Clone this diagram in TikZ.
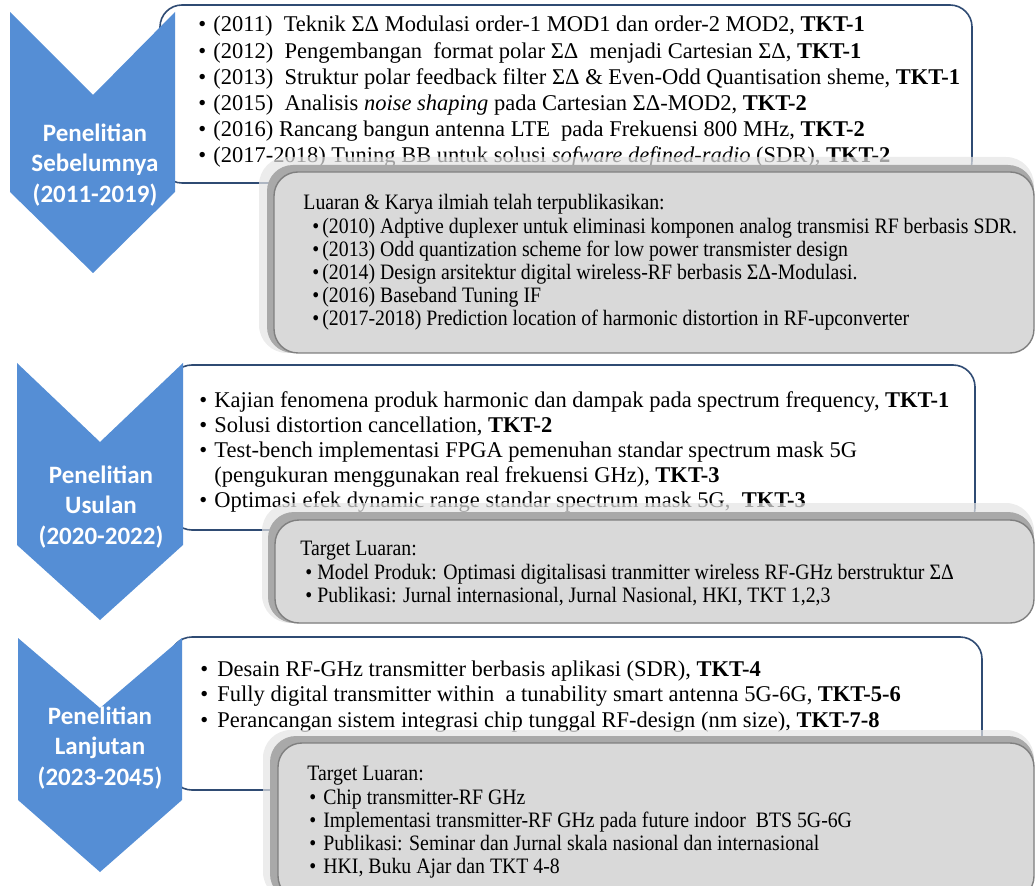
\documentclass[tikz,border=0pt]{standalone}
\usepackage{fontspec}
\setmainfont{Liberation Serif}
\newfontfamily\chevfont{Carlito}
\newfontfamily\narrowfont[FakeStretch=0.9]{Liberation Serif}
\usetikzlibrary{positioning}
\definecolor{cchev}{HTML}{558ED5}
\definecolor{cedge}{HTML}{2F4B73}
\definecolor{cgray}{HTML}{D9D9D9}
\definecolor{cband}{HTML}{A9A9A9}
\definecolor{chalo}{HTML}{E4E4E4}
\definecolor{cgline}{HTML}{7F7F7F}
\newcommand{\blt}[1][7.5pt]{\makebox[#1][l]{\textbullet}}

\begin{document}
\begin{tikzpicture}[
  x=0.5pt, y=-0.5pt,
  chev/.style={fill=cchev},
  chevtext/.style={text=white, font=\chevfont\bfseries\fontsize{12.5}{15.25}\selectfont, align=center, inner sep=0pt},
  wbox/.style={draw=cedge, fill=white, line width=0.8pt, rounded corners=11pt},
  ghalo/.style={fill=chalo, opacity=0.7, rounded corners=14pt},
  gband/.style={fill=cband, rounded corners=13pt},
  gbox/.style={fill=cgray, draw=cgline, line width=0.7pt, rounded corners=12pt},
  itm/.style={anchor=base west, inner sep=0pt, font=\fontsize{11.25}{13}\selectfont},
  gitm/.style={anchor=base west, inner sep=0pt, font=\narrowfont\fontsize{11}{12}\selectfont},
]
\useasboundingbox (0,0) rectangle (1036,886);
\clip (0,0) rectangle (1036,886);

% =================== Penelitian Sebelumnya ===================
\draw[wbox] (160,5) rectangle (972,183);
\foreach \txt [count=\i] in {%
  {\blt(2011)~~Teknik ΣΔ Modulasi order-1 MOD1 dan order-2 MOD2, \textbf{TKT-1}},%
  {\blt(2012)~~Pengembangan~~format polar ΣΔ~~menjadi Cartesian ΣΔ, \textbf{TKT-1}},%
  {\blt(2013)~~Struktur polar feedback filter ΣΔ \& Even-Odd Quantisation sheme, \textbf{TKT-1}},%
  {\blt(2015)~~Analisis \textit{noise shaping} pada Cartesian ΣΔ-MOD2, \textbf{TKT-2}},%
  {\blt(2016) Rancang bangun antenna LTE~~pada Frekuensi 800 MHz, \textbf{TKT-2}},%
  {\blt(2017-2018) Tuning BB untuk solusi \textit{sofware defined-radio} (SDR), \textbf{TKT-2}}}
  \node[itm] (a\i) at (198,{32+26.2*(\i-1)}) {\txt};

\fill[ghalo] (259,157) rectangle (1034,353);
\fill[gband] (267,165) rectangle (1034,353);
\draw[gbox] (274,172) rectangle (1034,353);
\node[gitm] (ah) at (303,210) {Luaran \& Karya ilmiah telah terpublikasikan:};
\foreach \txt [count=\i] in {%
  {\blt[5pt](2010) Adptive duplexer untuk eliminasi komponen analog transmisi RF berbasis SDR.},%
  {\blt[5pt](2013) Odd quantization scheme for low power transmister design},%
  {\blt[5pt](2014) Design arsitektur digital wireless-RF berbasis ΣΔ-Modulasi.},%
  {\blt[5pt](2016) Baseband Tuning IF},%
  {\blt[5pt](2017-2018) Prediction location of harmonic distortion in RF-upconverter}}
  \node[gitm] (ag\i) at (312,{234+23*(\i-1)}) {\txt};

\fill[chev] (10,12) -- (93,95) -- (175,12) -- (175,192) -- (93,273) -- (10,192) -- cycle;
\node[chevtext] (c1) at (95,165) {Penelitian\\Sebelumnya\\(2011-2019)};

% =================== Penelitian Usulan ===================
\draw[wbox] (170,365) rectangle (975,530);
\foreach \txt [count=\i] in {%
  {\blt Kajian fenomena produk harmonic dan dampak pada spectrum frequency, \textbf{TKT-1}},%
  {\blt Solusi distortion cancellation, \textbf{TKT-2}},%
  {\blt Test-bench implementasi FPGA pemenuhan standar spectrum mask 5G},%
  {\makebox[7.5pt]{}(pengukuran menggunakan real frekuensi GHz), \textbf{TKT-3}},%
  {\blt Optimasi efek dynamic range standar spectrum mask 5G,~~\textbf{TKT-3}}}
  \node[itm] (b\i) at (199,{408+24.8*(\i-1)}) {\txt};

\fill[ghalo] (262,503) rectangle (1034,623);
\fill[gband] (268,512) rectangle (1034,623);
\draw[gbox] (275,520) rectangle (1034,623);
\node[gitm] (bh) at (300,555) {Target Luaran:};
\foreach \txt [count=\i] in {%
  {\blt[6pt]Model Produk: Optimasi digitalisasi tranmitter wireless RF-GHz berstruktur ΣΔ},%
  {\blt[6pt]Publikasi: Jurnal internasional, Jurnal Nasional, HKI, TKT 1,2,3}}
  \node[gitm] (bg\i) at (305,{579+23.5*(\i-1)}) {\txt};

\fill[chev] (17,363) -- (100,442) -- (183,363) -- (183,545) -- (100,620) -- (17,545) -- cycle;
\node[chevtext] (c2) at (101,507) {Penelitian\\Usulan\\(2020-2022)};

% =================== Penelitian Lanjutan ===================
\draw[wbox] (170,637) rectangle (982,790);
\foreach \txt [count=\i] in {%
  {\blt[8.5pt]Desain RF-GHz transmitter berbasis aplikasi (SDR), \textbf{TKT-4}},%
  {\blt[8.5pt]Fully digital transmitter within~~a tunability smart antenna 5G-6G, \textbf{TKT-5-6}},%
  {\blt[8.5pt]Perancangan sistem integrasi chip tunggal RF-design (nm size), \textbf{TKT-7-8}}}
  \node[itm] (d\i) at (200,{676+25.5*(\i-1)}) {\txt};

\fill[ghalo] (263,730) rectangle (1034,900);
\fill[gband] (270,736) rectangle (1034,900);
\draw[gbox] (278,743) rectangle (1034,900);
\node[gitm] (dh) at (307,780) {Target Luaran:};
\foreach \txt [count=\i] in {%
  {\blt[7pt]Chip transmitter-RF GHz},%
  {\blt[7pt]Implementasi transmitter-RF GHz pada future indoor~~BTS 5G-6G},%
  {\blt[7pt]Publikasi: Seminar dan Jurnal skala nasional dan internasional},%
  {\blt[7pt]HKI, Buku Ajar dan TKT 4-8}}
  \node[gitm] (dg\i) at (309,{804+23*(\i-1)}) {\txt};

\fill[chev] (18,638) -- (100,708) -- (182,638) -- (182,800) -- (100,872) -- (18,800) -- cycle;
\node[chevtext] (c3) at (100,748) {Penelitian\\Lanjutan\\(2023-2045)};
\end{tikzpicture}
\end{document}
